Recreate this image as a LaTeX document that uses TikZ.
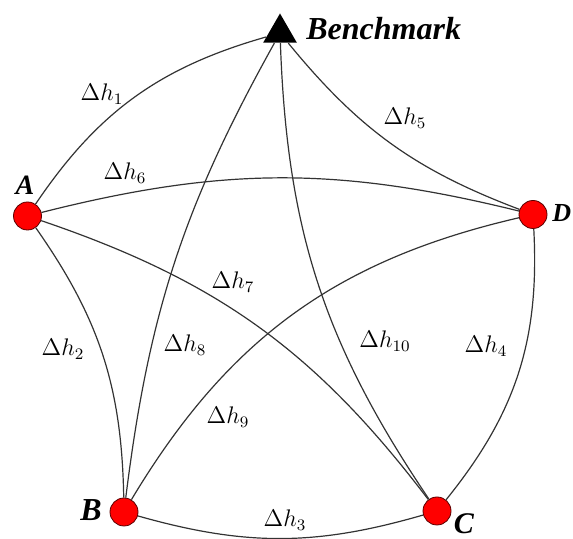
\documentclass[tikz,border=0pt]{standalone}
\usepackage{amsmath}
\usepackage{fontspec}
\newfontfamily\ptfont{Liberation Serif}
\usetikzlibrary{shapes.geometric}

\begin{document}
\begin{tikzpicture}[x=0.5pt,y=0.5pt,
  station/.style={circle,draw=red!35!black,fill=red,inner sep=0pt,minimum size=14pt},
  lev/.style={draw=black!80,line width=0.6pt},
  dh/.style={font=\fontsize{12}{14}\selectfont,inner sep=1pt},
  ptname/.style={font=\ptfont\bfseries\itshape\fontsize{#1}{18}\selectfont,inner sep=0pt}]
\useasboundingbox (0,0) rectangle (573,539);
\node[regular polygon,regular polygon sides=3,fill=black,inner sep=0pt,minimum size=19.5pt] (T) at (280,506) {};
\node[station] (A) at (27.5,323) {};
\node[station] (D) at (533,324.5) {};
\node[station] (B) at (124,27) {};
\node[station] (C) at (437,28) {};
\node[ptname=16,anchor=base west] (lT) at (306,499) {Benchmark};
\node[ptname=14] (lA) at (25,354) {A};
\node[ptname=13,anchor=west] (lD) at (552,326) {D};
\node[ptname=16] (lB) at (91,29) {B};
\node[ptname=15] (lC) at (464,15) {C};
\draw[lev] (A) to[bend left=20] (T);
\draw[lev] (A) to[bend left=17] (B);
\draw[lev] (B) to[bend right=16] (C);
\draw[lev] (C) to[bend right=21] (D);
\draw[lev] (T) to[bend right=15] (D);
\draw[lev] (A) to[bend left=14] (D);
\draw[lev] (A) to[bend left=17] (C);
\draw[lev] (T) to[bend right=11] (B);
\draw[lev] (D) to[bend right=23] (B);
\draw[lev] (T) to[bend right=16] (C);
\node[dh] (h1) at (102,445) {$\Delta h_1$};
\node[dh] (h2) at (63,190) {$\Delta h_2$};
\node[dh] (h3) at (285,19) {$\Delta h_3$};
\node[dh] (h4) at (486,193) {$\Delta h_4$};
\node[dh] (h5) at (405,421) {$\Delta h_5$};
\node[dh] (h6) at (125,366) {$\Delta h_6$};
\node[dh] (h7) at (233,257) {$\Delta h_7$};
\node[dh] (h8) at (185,194) {$\Delta h_8$};
\node[dh] (h9) at (228,122) {$\Delta h_9$};
\node[dh] (h10) at (385,198) {$\Delta h_{10}$};
\end{tikzpicture}
\end{document}
